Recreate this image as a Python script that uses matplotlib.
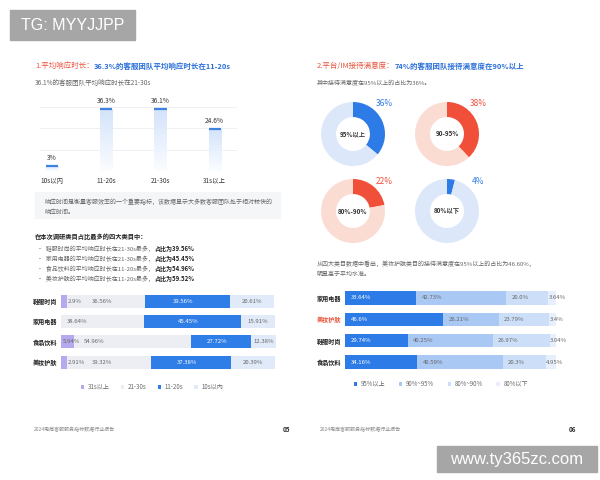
import numpy as np
import matplotlib
matplotlib.use("Agg")
import matplotlib.pyplot as plt
from matplotlib.patches import Rectangle
from matplotlib.colors import LinearSegmentedColormap

plt.rcParams["font.family"] = ["Noto Sans CJK SC", "DejaVu Sans"]

W, H = 600, 480

RED = "#e8553e"
BLUE = "#2d7be6"
DARK = "#333333"
GREY = "#666666"

# ---- page 05 data ----
RESP_CATS = ["10s以内", "11-20s", "21-30s", "31s以上"]
RESP_VALS = [3, 36.3, 36.1, 24.6]

CATS_L = ["鞋服时尚", "家用电器", "食品饮料", "美妆护肤"]
OVER_31 = [2.9, 0, 5.94, 2.91]
S21_30 = [36.56, 38.64, 54.96, 39.32]
S11_20 = [39.56, 45.45, 27.72, 37.38]
S10 = [20.61, 15.91, 12.38, 20.39]
LEG_L = ["31s以上", "21-30s", "11-20s", "10s以内"]
COL_L = ["#b7a9ee", "#eceef3", "#2f7de6", "#e1eaf8"]

BULLETS = [
    ("鞋服时尚的平均响应时长在21-30s最多，", "占比为39.56%"),
    ("家用电器的平均响应时长在21-30s最多，", "占比为45.45%"),
    ("食品饮料的平均响应时长在11-20s最多，", "占比为54.96%"),
    ("美妆护肤的平均响应时长在11-20s最多，", "占比为59.52%"),
]

# ---- page 06 data ----
DONUT_VALS = [36, 38, 22, 4]
DONUT_LABELS = ["95%以上", "90-95%", "80%-90%", "80%以下"]
DONUT_KIND = ["blue", "red", "red", "blue"]

CATS_R = ["家用电器", "美妆护肤", "鞋服时尚", "食品饮料"]
P95 = [33.64, 46.6, 29.74, 34.16]
P90 = [42.73, 26.21, 40.25, 40.59]
P80 = [20.0, 23.79, 26.97, 20.3]
PL80 = [3.64, 3.4, 3.04, 4.95]
LEG_R = ["95%以上", "90%~95%", "80%~90%", "80%以下"]
COL_R = ["#2d7be6", "#a9c8f4", "#cddff8", "#e6effb"]


def px_axes(x0, y0, x1, y1):
    return fig.add_axes([x0 / W, 1 - y1 / H, (x1 - x0) / W, (y1 - y0) / H])


def chain(x, y, parts, size):
    t = None
    for s, c, w in parts:
        if t is None:
            t = canvas.text(x, y, s, color=c, fontsize=size, fontweight=w,
                            ha="left", va="center")
        else:
            t = canvas.annotate(s, xy=(1, 0), xycoords=t, ha="left", va="bottom",
                                color=c, fontsize=size, fontweight=w)
    return t


fig = plt.figure(figsize=(6, 4.8), dpi=100, facecolor="white")
canvas = fig.add_axes([0, 0, 1, 1])
canvas.set_xlim(0, W)
canvas.set_ylim(H, 0)
canvas.axis("off")

# ================= page 05 =================
chain(35, 66, [("1.平均响应时长：", RED, "normal"),
               ("36.3%的客服团队平均响应时长在11-20s", "#2a6fd8", "bold")], 5.4)
canvas.text(35, 83, "36.1%的客服团队平均响应时长在21-30s", fontsize=4.7,
            color=GREY, va="center")

ax1 = px_axes(40, 102.6, 237, 171)
x = np.arange(len(RESP_VALS))
ax1.set_xlim(-0.22, 3.41)
ax1.set_ylim(0, 40)
bars = ax1.bar(x, RESP_VALS, width=0.23, color="none", zorder=2)
grad = LinearSegmentedColormap.from_list("g", ["#fbfdff", "#d3e3fa"])
for b, v in zip(bars, RESP_VALS):
    bx = b.get_x()
    im = ax1.imshow(np.linspace(0, 1, 100).reshape(-1, 1), cmap=grad, origin="lower",
                    extent=(bx, bx + b.get_width(), 0, v), aspect="auto", zorder=2)
    im.set_clip_path(b)
    ax1.plot([bx, bx + b.get_width()], [v, v], color="#3f82e0", lw=1.6,
             solid_capstyle="butt", zorder=3)
    ax1.annotate(f"{v}%", (b.get_x() + b.get_width() / 2, v), xytext=(0, 3),
                 textcoords="offset points", ha="center", va="bottom",
                 fontsize=4.8, color=DARK)
ax1.set_yticks([0, 12.5, 25, 37.5])
ax1.grid(axis="y", color="#eef0f4", lw=0.7, zorder=0)
ax1.set_xticks(x)
ax1.set_xticklabels(RESP_CATS, fontsize=4.6, color=DARK)
ax1.tick_params(length=0, pad=4, labelleft=False)
ax1.set_xlim(-0.22, 3.41)
for s in ax1.spines.values():
    s.set_visible(False)

canvas.add_patch(Rectangle((35, 192), 245, 26, color="#f5f6f8", zorder=0))
canvas.text(45, 202, "响应时间是衡量客服效率的一个重要指标，该数据显示大多数客服团队处于相对较快的",
            fontsize=4.3, color=GREY, va="center")
canvas.text(45, 211.5, "响应时间。", fontsize=4.3, color=GREY, va="center")

canvas.text(35, 236, "在本次调研类目占比最多的四大类目中：", fontsize=4.5,
            color="#222222", fontweight="bold", va="center")
for i, (a, b) in enumerate(BULLETS):
    chain(37, 249 + i * 10, [("•  " + a, GREY, "normal"), (b, "#222222", "bold")], 4.3)

ax2 = px_axes(61, 290.9, 276, 372.2)
y = np.arange(len(CATS_L))
left = np.zeros(len(CATS_L))
handles = []
for k, (vals, col) in enumerate(zip([OVER_31, S21_30, S11_20, S10], COL_L)):
    vals = np.array(vals, dtype=float)
    h = ax2.barh(y, vals, left=left, height=0.64, color=col, label=LEG_L[k])
    handles.append(h)
    for j, v in enumerate(vals):
        if v == 0:
            continue
        if k == 0:
            xx = left[j] + (v if v < 4 else 0.5)
            ax2.text(xx + 0.4, j, f"{v}%", fontsize=4.3, color=GREY, va="center", ha="left")
        elif k == 1:
            off = 11.5 if 0 < OVER_31[j] < 4 else (2.5 if OVER_31[j] == 0 else 4.5)
            ax2.text(left[j] + off, j, f"{v}%", fontsize=4.3, color=GREY, va="center", ha="left")
        elif k == 2:
            ax2.text(left[j] + v / 2 - 2, j, f"{v}%", fontsize=4.3, color="white",
                     va="center", ha="center")
        else:
            ax2.text(left[j] + v / 2, j, f"{v}%", fontsize=4.3, color=GREY,
                     va="center", ha="center")
    left += vals
ax2.set_xlim(0, 100.5)
ax2.set_ylim(3.5, -0.5)
ax2.set_yticks(y)
ax2.set_yticklabels(CATS_L, fontsize=4.4, color="#222222", fontweight="bold")
ax2.tick_params(length=0, pad=2.5, labelbottom=False)
for s in ax2.spines.values():
    s.set_visible(False)
fig.legend(handles=handles, loc="center", bbox_to_anchor=(152 / W, 1 - 387 / H),
           ncol=4, frameon=False, fontsize=4.4, handlelength=0.55, handleheight=0.55,
           columnspacing=1.8, handletextpad=0.6, labelcolor=GREY)

canvas.text(34, 430, "2024电商客服服务指标数据行业报告", fontsize=3.6, color="#888888", va="center")
canvas.text(283, 430, "05", fontsize=4.6, color=DARK, va="center", fontweight="bold")

# ================= page 06 =================
chain(317, 66, [("2.平台/IM接待满意度：", RED, "normal"),
                ("74%的客服团队接待满意度在90%以上", "#2a6fd8", "bold")], 5.4)
canvas.text(317, 83, "其中接待满意度在95%以上的占比为36%。", fontsize=4.3,
            color=GREY, va="center")

centers = [(353, 134), (447, 134), (353, 211), (447, 211)]
R = 32
for (cx, cy), v, lab, kind in zip(centers, DONUT_VALS, DONUT_LABELS, DONUT_KIND):
    dax = px_axes(cx - R, cy - R, cx + R, cy + R)
    dark, light = (BLUE, "#dce8fa") if kind == "blue" else ("#f0503a", "#fbdcd3")
    dax.pie([v, 100 - v], colors=[dark, light], startangle=90, counterclock=False,
            radius=1, wedgeprops=dict(width=0.47, linewidth=0))
    dax.set_xlim(-1, 1)
    dax.set_ylim(-1, 1)
    dax.text(0, 0, lab, ha="center", va="center", fontsize=4.5, color=DARK, fontweight="bold")
    canvas.text(cx + 31, cy - 30, f"{v}%", fontsize=6, color=dark, ha="center", va="center")

canvas.text(317, 264, "从四大类目数据中看出，美妆护肤类目的接待满意度在95%以上的占比为46.60%，",
            fontsize=4.3, color=GREY, va="center")
canvas.text(317, 274, "明显高于平均水准。", fontsize=4.3, color=GREY, va="center")

ax3 = px_axes(345, 287.3, 556, 372.7)
y = np.arange(len(CATS_R))
left = np.zeros(len(CATS_R))
handles = []
for k, (vals, col) in enumerate(zip([P95, P90, P80, PL80], COL_R)):
    vals = np.array(vals, dtype=float)
    h = ax3.barh(y, vals, left=left, height=0.63, color=col, label=LEG_R[k])
    handles.append(h)
    for j, v in enumerate(vals):
        ax3.annotate(f"{v}%", (left[j], j), xytext=(4 if k < 3 else 0.5, 0),
                     textcoords="offset points", fontsize=4.3, va="center", ha="left",
                     color="white" if k == 0 else GREY)
    left += vals
ax3.set_xlim(0, 100)
ax3.set_ylim(3.5, -0.5)
ax3.set_yticks(y)
ax3.set_yticklabels(CATS_R, fontsize=4.4, fontweight="bold")
for t in ax3.get_yticklabels():
    t.set_color(RED if t.get_text() == "美妆护肤" else "#222222")
ax3.tick_params(length=0, pad=3, labelbottom=False)
for s in ax3.spines.values():
    s.set_visible(False)
fig.legend(handles=handles, loc="center", bbox_to_anchor=(441 / W, 1 - 384 / H),
           ncol=4, frameon=False, fontsize=4.4, handlelength=0.55, handleheight=0.55,
           columnspacing=2.2, handletextpad=0.6, labelcolor=GREY)

canvas.text(320, 430, "2024电商客服服务指标数据行业报告", fontsize=3.6, color="#888888", va="center")
canvas.text(569, 430, "06", fontsize=4.6, color=DARK, va="center", fontweight="bold")

# ---- watermarks ----
canvas.add_patch(Rectangle((10, 10), 125, 30, color="#a6a6a6", zorder=5))
canvas.text(72.5, 25.5, "TG: MYYJJPP", fontsize=11.5, color="white", ha="center",
            va="center", family="Liberation Sans", zorder=6)
canvas.add_patch(Rectangle((437, 446), 160, 26, color="#a6a6a6", zorder=5))
canvas.text(517, 459.5, "www.ty365zc.com", fontsize=12, color="white", ha="center",
            va="center", family="Liberation Sans", zorder=6)

fig.savefig("out.png", dpi=100, facecolor="white")
